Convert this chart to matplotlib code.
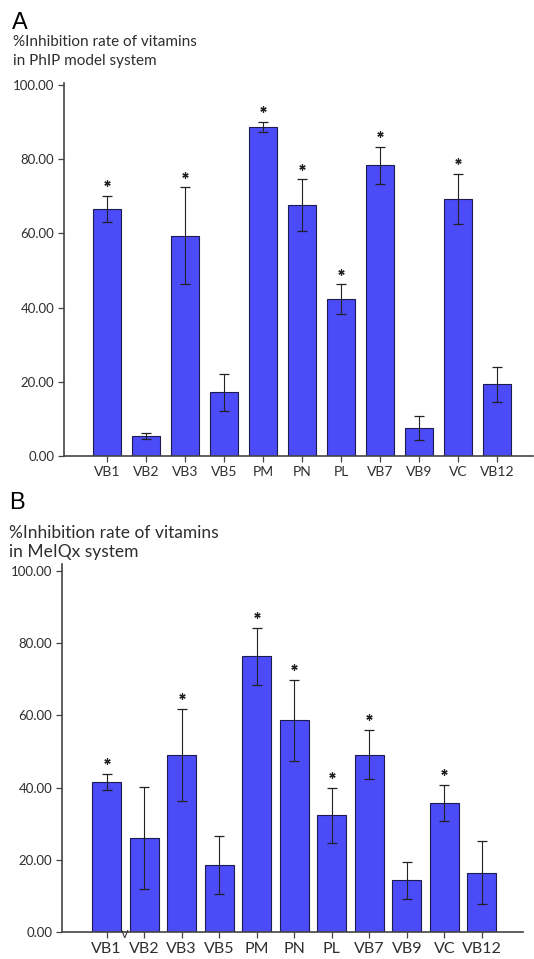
import numpy as np
import matplotlib.pyplot as plt

plt.rcParams['font.family'] = ['Lato', 'DejaVu Sans']

# data
labels = ['VB1', 'VB2', 'VB3', 'VB5', 'PM', 'PN', 'PL', 'VB7', 'VB9', 'VC', 'VB12']
phip_mean = [66.6, 5.4, 59.4, 17.2, 88.7, 67.5, 42.3, 78.3, 7.6, 69.2, 19.3]
phip_err = [3.5, 0.8, 13.0, 5.0, 1.3, 7.0, 4.0, 5.0, 3.3, 6.8, 4.7]
phip_sig = [1, 0, 1, 0, 1, 1, 1, 1, 0, 1, 0]
meiqx_mean = [41.6, 26.0, 49.1, 18.5, 76.3, 58.6, 32.3, 49.1, 14.3, 35.6, 16.4]
meiqx_err = [2.2, 14.2, 12.7, 8.0, 8.0, 11.2, 7.7, 6.8, 5.2, 5.0, 8.7]
meiqx_sig = [1, 0, 1, 0, 1, 1, 1, 1, 0, 1, 0]
yticks = [0, 20, 40, 60, 80, 100]

bar_color = '#4b4bf8'
edge_color = '#1c1c50'
axis_color = '#444444'
text_color = '#2e2e2e'

fig = plt.figure(figsize=(5.34, 9.59), dpi=100)


def draw_panel(ax, mean, err, sig, width, xlim, ylim, star_pad, lab_size):
    x = np.arange(len(labels))
    ax.bar(x, mean, width=width, color=bar_color, edgecolor=edge_color, linewidth=0.8, zorder=2)
    ax.errorbar(x, mean, yerr=err, fmt='none', ecolor='#222222', elinewidth=0.8,
                capsize=3.5, capthick=0.9, zorder=3)
    # significance asterisks
    xs = [xi for xi, s in zip(x, sig) if s]
    ys = [m + e + star_pad for m, e, s in zip(mean, err, sig) if s]
    ax.plot(xs, ys, linestyle='none', marker=(6, 2, 0), markersize=4.5,
            markeredgewidth=0.9, color='#222222', clip_on=False)
    ax.set_xlim(*xlim)
    ax.set_ylim(*ylim)
    ax.set_xticks(x)
    ax.set_xticklabels(labels, fontsize=lab_size, color=text_color)
    ax.set_yticks(yticks)
    ax.set_yticklabels(['%.2f' % v for v in yticks], fontsize=9.5, color=text_color)
    for side in ['top', 'right']:
        ax.spines[side].set_visible(False)
    for side in ['left', 'bottom']:
        ax.spines[side].set_color(axis_color)
        ax.spines[side].set_linewidth(1.2)
    ax.tick_params(axis='both', color=axis_color, length=4, width=0.9, pad=3)


# panel A - PhIP
axA = fig.add_axes([0.12, 0.5245, 0.878, 0.389])
draw_panel(axA, phip_mean, phip_err, phip_sig, 0.74, (-1.10, 10.92), (0, 100.5), 3.4, 10)

# panel B - MeIQx
axB = fig.add_axes([0.116, 0.0282, 0.863, 0.384])
draw_panel(axB, meiqx_mean, meiqx_err, meiqx_sig, 0.77, (-1.19, 11.09), (0, 102), 3.6, 11.5)

fig.text(0.022, 0.9765, 'A', fontsize=17, family=['Liberation Sans'], va='center', ha='left')
fig.text(0.024, 0.956, '%Inhibition rate of vitamins', fontsize=11, va='center', ha='left', color=text_color)
fig.text(0.024, 0.936, 'in PhIP model system', fontsize=11, va='center', ha='left', color=text_color)

fig.text(0.018, 0.476, 'B', fontsize=17, family=['Liberation Sans'], va='center', ha='left')
fig.text(0.016, 0.444, '%Inhibition rate of vitamins', fontsize=12.5, va='center', ha='left', color=text_color)
fig.text(0.016, 0.424, 'in MeIQx system', fontsize=12.5, va='center', ha='left', color=text_color)
# stray mark seen under the axis of panel B
fig.text(0.2335, 0.0255, 'V', fontsize=8, va='center', ha='center', color=text_color)

fig.savefig('out.png', dpi=100)
